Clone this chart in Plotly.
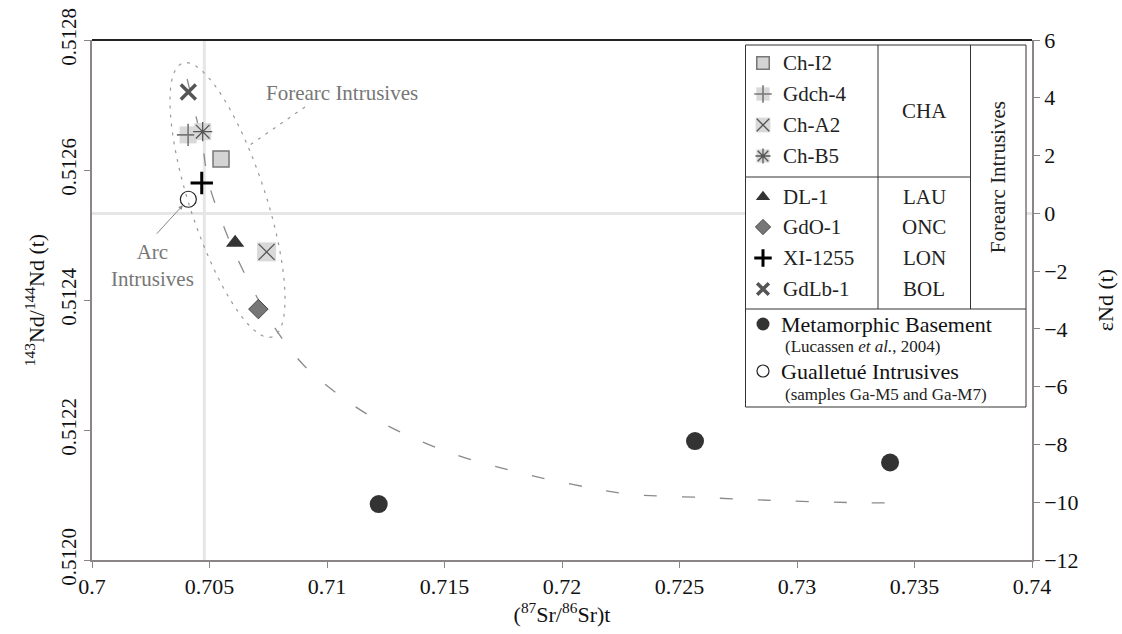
import numpy as np
import plotly.graph_objects as go

# ---- data -------------------------------------------------------------
forearc_names = ["Ch-I2", "Gdch-4", "Ch-A2", "Ch-B5", "DL-1", "GdO-1", "XI-1255", "GdLb-1"]
forearc_units = ["CHA", "CHA", "CHA", "CHA", "LAU", "ONC", "LON", "BOL"]
forearc_sr = [0.70549, 0.70409, 0.70743, 0.70471, 0.70609, 0.70708, 0.70467, 0.70410]
forearc_nd = [0.512617, 0.512654, 0.512474, 0.512659, 0.512488, 0.512386, 0.512580, 0.512720]

basement_sr = [0.7122, 0.72566, 0.73396]
basement_nd = [0.512086, 0.512183, 0.512150]

gualletue_sr = [0.70410]
gualletue_nd = [0.512555]

# mixing trend (dashed) read along its course
trend_sr = [0.70405, 0.70471, 0.70495, 0.70566, 0.70626, 0.70704, 0.70793, 0.7090,
            0.7100, 0.7120, 0.7150, 0.7180, 0.7205, 0.72268, 0.72609, 0.72949,
            0.73289, 0.73451]
trend_nd = [0.512740, 0.512636, 0.512582, 0.512508, 0.512458, 0.512403, 0.512349, 0.51230,
            0.512268, 0.512218, 0.512168, 0.512136, 0.512116, 0.512102, 0.512096, 0.512091,
            0.512088, 0.512088]

chur_nd = 0.512533      # epsilon Nd = 0 reference
bse_sr = 0.70478        # bulk-earth Sr reference

x_ticks = [0.70, 0.705, 0.71, 0.715, 0.72, 0.725, 0.73, 0.735, 0.74]
x_ticktext = ["0.7", "0.705", "0.71", "0.715", "0.72", "0.725", "0.73", "0.735", "0.74"]
nd_ticks = [0.5120, 0.5122, 0.5124, 0.5126, 0.5128]
eps_ticks = [-12, -10, -8, -6, -4, -2, 0, 2, 4, 6]

# ---- layout geometry ---------------------------------------------------
W, H = 1122, 634
ML, MR, MT, MB = 92, 90, 40, 74
PW, PH = W - ML - MR, H - MT - MB
FONT = "Liberation Serif"


def fx(p):
    return (p - ML) / PW


def fy(p):
    return 1 - (p - MT) / PH


BG_SQ = "#d9d9d9"
styles = {
    "Ch-I2": [dict(symbol="square", size=16, color="#d4d4d4", line=dict(color="#777", width=1.5))],
    "Gdch-4": [dict(symbol="square", size=17, color=BG_SQ, line=dict(width=0)),
               dict(symbol="cross-thin", size=16, line=dict(color="#777", width=1.6))],
    "Ch-A2": [dict(symbol="square", size=19, color=BG_SQ, line=dict(width=0)),
              dict(symbol="x-thin", size=16, line=dict(color="#555", width=1.3))],
    "Ch-B5": [dict(symbol="square", size=17, color=BG_SQ, line=dict(width=0)),
              dict(symbol="asterisk", size=16, line=dict(color="#555", width=1.3))],
    "DL-1": [dict(symbol="triangle-up", size=16, color="#333", line=dict(width=0))],
    "GdO-1": [dict(symbol="diamond", size=15, color="#777", line=dict(color="#444", width=1))],
    "XI-1255": [dict(symbol="cross-thin", size=16, line=dict(color="#000", width=3))],
    "GdLb-1": [dict(symbol="x-thin", size=15, line=dict(color="#555", width=3.5))],
}
basement_style = dict(symbol="circle", size=18, color="#333", line=dict(width=0))
gualletue_style = dict(symbol="circle", size=16, color="white", line=dict(color="#222", width=1.2))

fig = go.Figure()

# dashed mixing trend
fig.add_trace(go.Scatter(x=trend_sr, y=trend_nd, mode="lines", line_shape="spline",
                         line=dict(color="#8a8a8a", width=1.3, dash="13px,25px"),
                         hoverinfo="skip", showlegend=False))

# samples
for name, sr, nd in zip(forearc_names, forearc_sr, forearc_nd):
    for st in styles[name]:
        fig.add_trace(go.Scatter(x=[sr], y=[nd], mode="markers", marker=st,
                                 name=name, showlegend=False))
fig.add_trace(go.Scatter(x=basement_sr, y=basement_nd, mode="markers", marker=basement_style,
                         name="Metamorphic Basement", showlegend=False))
fig.add_trace(go.Scatter(x=gualletue_sr, y=gualletue_nd, mode="markers", marker=gualletue_style,
                         name="Gualletué Intrusives", showlegend=False))

# keep the epsilon axis drawn
fig.add_trace(go.Scatter(x=[None], y=[None], yaxis="y2", showlegend=False, hoverinfo="skip"))

# ---- legend table --------------------------------------------------------
LX0, LX1, LX2, LX3 = 745.5, 878, 970.5, 1026
LY0, LY1, LY2, LY3 = 45, 177, 309, 407
sample_rows = [63, 94, 125, 156, 197, 227, 258, 289]
SYM_X, TXT_X = 763, 781

leg_scale = 0.78
for name, row in zip(forearc_names, sample_rows):
    for st in styles[name]:
        st2 = dict(st)
        st2["size"] = st["size"] * leg_scale
        fig.add_trace(go.Scatter(x=[fx(SYM_X)], y=[fy(row)], xaxis="x2", yaxis="y3",
                                 mode="markers", marker=st2, showlegend=False, hoverinfo="skip"))
b2 = dict(basement_style, size=13)
g2 = dict(gualletue_style, size=12)
fig.add_trace(go.Scatter(x=[fx(SYM_X)], y=[fy(324)], xaxis="x2", yaxis="y3", mode="markers",
                         marker=b2, showlegend=False, hoverinfo="skip"))
fig.add_trace(go.Scatter(x=[fx(SYM_X)], y=[fy(371)], xaxis="x2", yaxis="y3", mode="markers",
                         marker=g2, showlegend=False, hoverinfo="skip"))

shapes = []
# reference lines
shapes.append(dict(type="line", xref="paper", x0=0, x1=1, yref="y", y0=chur_nd, y1=chur_nd,
                   line=dict(color="#e6e6e6", width=3), layer="below"))
shapes.append(dict(type="line", xref="x", x0=bse_sr, x1=bse_sr, yref="paper", y0=0, y1=1,
                   line=dict(color="#e6e6e6", width=3), layer="below"))
# legend box
LC = "#333"
shapes.append(dict(type="rect", xref="paper", yref="paper", x0=fx(LX0), x1=fx(LX3),
                   y0=fy(LY3), y1=fy(LY0), fillcolor="white", line=dict(color=LC, width=1),
                   layer="below"))
for (xa, ya, xb, yb) in [(LX0, LY1, LX2, LY1), (LX0, LY2, LX3, LY2),
                         (LX1, LY0, LX1, LY2), (LX2, LY0, LX2, LY2)]:
    shapes.append(dict(type="line", xref="paper", yref="paper", x0=fx(xa), x1=fx(xb),
                       y0=fy(ya), y1=fy(yb), line=dict(color=LC, width=1), layer="below"))
# dark frame line along the top of the plot
shapes.append(dict(type="line", xref="paper", yref="paper", x0=0, x1=1, y0=1, y1=1,
                   line=dict(color="#222", width=2)))

# dotted outline around the forearc group
cx, cy, a, b = 227.5, 200, 144, 38
ang = np.arctan2(272, 89)
t = np.linspace(0, 2 * np.pi, 90)
ex = cx + a * np.cos(t) * np.cos(ang) - b * np.sin(t) * np.sin(ang)
ey = cy + a * np.cos(t) * np.sin(ang) + b * np.sin(t) * np.cos(ang)
path = "M " + " L ".join(f"{fx(u):.5f},{fy(v):.5f}" for u, v in zip(ex, ey)) + " Z"
shapes.append(dict(type="path", xref="paper", yref="paper", path=path,
                   line=dict(color="#9a9a9a", width=1.2, dash="3px,6px")))
# leader from the label to the outline
shapes.append(dict(type="line", xref="paper", yref="paper", x0=fx(305), y0=fy(107),
                   x1=fx(247), y1=fy(147), line=dict(color="#9a9a9a", width=1.2, dash="3px,6px")))

ann = []
TXT = dict(family=FONT, size=21, color="#222")
for name, row in zip(forearc_names, sample_rows):
    ann.append(dict(xref="paper", yref="paper", x=fx(TXT_X), y=fy(row), text=name,
                    showarrow=False, xanchor="left", yanchor="middle", font=TXT))
unit_rows = {"CHA": 111, "LAU": 197, "ONC": 227, "LON": 258, "BOL": 289}
for unit, row in unit_rows.items():
    ann.append(dict(xref="paper", yref="paper", x=fx((LX1 + LX2) / 2), y=fy(row), text=unit,
                    showarrow=False, xanchor="center", yanchor="middle", font=TXT))
ann.append(dict(xref="paper", yref="paper", x=fx((LX2 + LX3) / 2), y=fy((LY0 + LY2) / 2),
                text="Forearc Intrusives", textangle=-90, showarrow=False,
                xanchor="center", yanchor="middle", font=TXT))
ann.append(dict(xref="paper", yref="paper", x=fx(TXT_X - 2), y=fy(324), text="Metamorphic Basement",
                showarrow=False, xanchor="left", yanchor="middle", font=dict(family=FONT, size=22, color="#111")))
ann.append(dict(xref="paper", yref="paper", x=fx(TXT_X + 2), y=fy(346),
                text="(Lucassen <i>et al.</i>, 2004)", showarrow=False, xanchor="left",
                yanchor="middle", font=dict(family=FONT, size=17, color="#222")))
ann.append(dict(xref="paper", yref="paper", x=fx(TXT_X - 2), y=fy(371), text="Gualletué Intrusives",
                showarrow=False, xanchor="left", yanchor="middle", font=dict(family=FONT, size=22, color="#111")))
ann.append(dict(xref="paper", yref="paper", x=fx(TXT_X + 2), y=fy(394),
                text="(samples Ga-M5 and Ga-M7)", showarrow=False, xanchor="left",
                yanchor="middle", font=dict(family=FONT, size=17, color="#222")))

# in-plot labels
GT = dict(family=FONT, size=21, color="#777")
ann.append(dict(xref="paper", yref="paper", x=fx(342), y=fy(93), text="Forearc Intrusives",
                showarrow=False, xanchor="center", yanchor="middle", font=GT))
ann.append(dict(xref="paper", yref="paper", x=fx(152), y=fy(265), text="Arc<br>Intrusives",
                showarrow=False, xanchor="center", yanchor="middle", align="center", font=GT))
ann.append(dict(x=gualletue_sr[0], y=gualletue_nd[0], xref="x", yref="y", text="",
                showarrow=True, arrowhead=2, arrowsize=0.9, arrowwidth=1, arrowcolor="#888",
                ax=-33, ay=36, standoff=8))

AX = "#8c8585"
TICKF = dict(family=FONT, size=22, color="#111")
TICKL = dict(family=FONT, size=21, color="#111")
TITLEF = dict(family=FONT, size=22, color="#111")
fig.update_layout(
    width=W, height=H,
    margin=dict(l=ML, r=MR, t=MT, b=MB, pad=0),
    paper_bgcolor="white", plot_bgcolor="white",
    font=dict(family=FONT, color="#111"),
    showlegend=False,
    shapes=shapes,
    annotations=ann,
    xaxis=dict(range=[0.70, 0.74], tickvals=x_ticks, ticktext=x_ticktext, showgrid=False,
               zeroline=False, showline=True, linecolor=AX, linewidth=1.5,
               ticks="outside", ticklen=6, tickcolor=AX, tickfont=TICKF, automargin=False,
               title=dict(text="(<sup>87</sup>Sr/<sup>86</sup>Sr)t", font=TITLEF, standoff=4)),
    yaxis=dict(range=[0.5120, 0.5128], tickvals=nd_ticks, tickformat=".4f", showgrid=False,
               zeroline=False, showline=True, linecolor=AX, linewidth=1.5,
               ticks="outside", ticklen=6, tickcolor=AX, tickangle=-90, tickfont=TICKL,
               automargin=False,
               title=dict(text="<sup>143</sup>Nd/<sup>144</sup>Nd (t)", font=TITLEF, standoff=6)),
    yaxis2=dict(range=[-12, 6], tickvals=eps_ticks, overlaying="y", side="right", showgrid=False,
                zeroline=False, showline=True, linecolor=AX, linewidth=1.5, ticks="outside",
                ticklen=6, tickcolor=AX, tickfont=TICKF, automargin=False,
                title=dict(text="εNd (t)", font=TITLEF, standoff=20)),
    xaxis2=dict(range=[0, 1], overlaying="x", visible=False),
    yaxis3=dict(range=[0, 1], overlaying="y", visible=False),
)

fig.write_html("out.html")
